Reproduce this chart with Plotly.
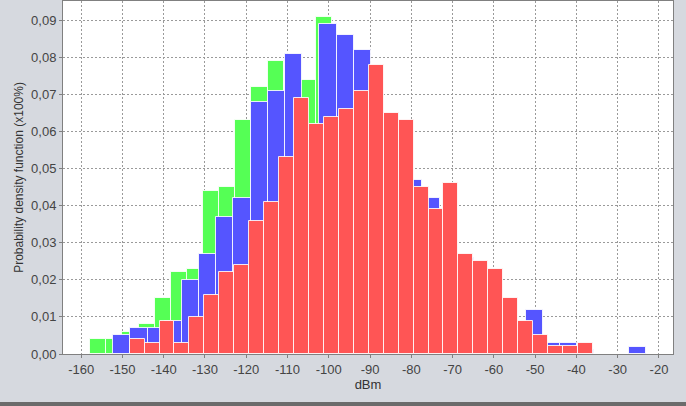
import plotly.graph_objects as go

# relative frequency per bin (31 bins per series)
red_vals = [0.004, 0.003, 0.009, 0.003, 0.010, 0.016, 0.022, 0.024, 0.036, 0.041,
            0.053, 0.069, 0.062, 0.064, 0.066, 0.071, 0.078, 0.065, 0.063, 0.045,
            0.039, 0.046, 0.027, 0.025, 0.023, 0.015, 0.009, 0.005, 0.0022, 0.0022,
            0.003]
blue_vals = [0.005, 0.007, 0.007, 0.009, 0.020, 0.027, 0.037, 0.042, 0.068, 0.071,
             0.081, 0.056, 0.089, 0.086, 0.082, 0.060, 0.052, 0.047, 0.042, 0.034,
             0.026, 0.022, 0.014, 0.008, 0.012, 0.003, 0.003, 0.001, 0.0, 0.0,
             0.002]
green_vals = [0.004, 0.004, 0.006, 0.008, 0.015, 0.022, 0.023, 0.044, 0.045, 0.063,
              0.072, 0.079, 0.070, 0.074, 0.091, 0.068, 0.060, 0.055, 0.045, 0.038,
              0.030, 0.022, 0.018, 0.014, 0.011, 0.008, 0.005, 0.004, 0.002, 0.001,
              0.001]

# histogram bin start and width (dBm) for each series
red_bins = (-148.26, 3.621)
blue_bins = (-152.25, 4.164)
green_bins = (-157.82, 3.909)

x_ticks = list(range(-160, -19, 10))
x_labels = [str(v) for v in x_ticks]
y_ticks = [0.00, 0.01, 0.02, 0.03, 0.04, 0.05, 0.06, 0.07, 0.08, 0.09]
y_labels = ["0,00", "0,01", "0,02", "0,03", "0,04", "0,05", "0,06", "0,07", "0,08", "0,09"]


def centers(bins, n):
    start, w = bins
    return [start + (i + 0.5) * w for i in range(n)]


fig = go.Figure()
# drawn back to front: green, blue, red
for vals, bins, color in [(green_vals, green_bins, "#55FF55"),
                          (blue_vals, blue_bins, "#5555FF"),
                          (red_vals, red_bins, "#FF5555")]:
    fig.add_trace(go.Bar(
        x=centers(bins, len(vals)),
        y=vals,
        width=bins[1],
        marker=dict(color=color, line=dict(color="rgba(255,255,255,0.85)", width=1)),
        showlegend=False
    ))

axis_font = dict(family="Liberation Sans, Arial, sans-serif", size=13, color="#444444")
fig.update_layout(
    width=686,
    height=406,
    barmode="overlay",
    bargap=0,
    paper_bgcolor="#d6d9df",
    plot_bgcolor="white",
    margin=dict(l=63, r=13, t=1, b=52),
    font=axis_font,
    xaxis=dict(
        range=[-164.4, -16.6],
        tickvals=x_ticks,
        ticktext=x_labels,
        ticks="outside", ticklen=3, tickcolor="#808080",
        showgrid=True, gridcolor="#9a9a9a", griddash="2px,2px", gridwidth=1,
        showline=True, linecolor="#808080", mirror=True,
        zeroline=False, automargin=False,
        title=dict(text="dBm", font=dict(size=13, color="#333333"), standoff=4)
    ),
    yaxis=dict(
        range=[0, 0.0952],
        tickvals=y_ticks,
        ticktext=y_labels,
        ticks="outside", ticklen=3, tickcolor="#808080",
        showgrid=True, gridcolor="#9a9a9a", griddash="2px,2px", gridwidth=1,
        showline=True, linecolor="#808080", mirror=True,
        zeroline=False, automargin=False,
        title=dict(text="Probability density function (x100%)",
                   font=dict(size=12, color="#333333"), standoff=4)
    )
)

# dark frame edge along the bottom of the panel
fig.add_shape(type="rect", xref="paper", yref="paper",
              x0=-63 / 610, x1=1 + 13 / 610, y0=-52 / 353, y1=-48 / 353,
              fillcolor="#6b6b6b", line_width=0, layer="above")

# page body has an 8px default margin; drop it so the chart sits at the window corner
fig.write_html("out.html", config={"displayModeBar": False},
               post_script="document.body.style.margin='0';")
